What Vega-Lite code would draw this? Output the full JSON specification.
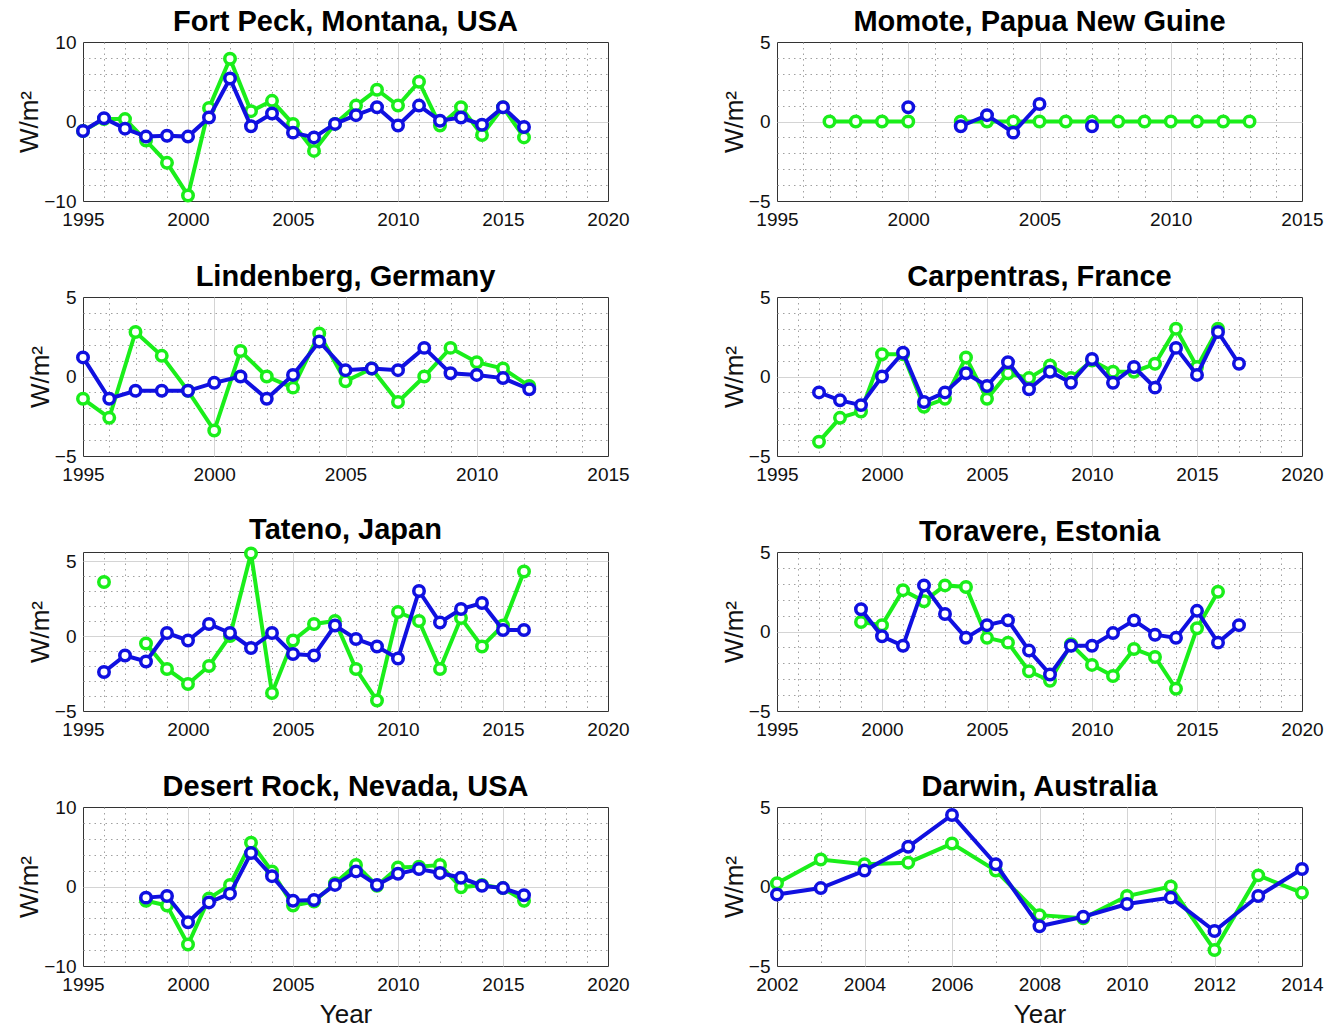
{
  "$schema": "https://vega.github.io/schema/vega-lite/v6.json",
  "autosize": {"type": "pad"},
  "padding": {"left": 16, "top": 7, "right": 15, "bottom": 0},
  "background": "white",
  "datasets": {
    "obs": [
      {"station": "Fort Peck", "year": 1995, "seriesA": -1.2, "seriesB": -1.2},
      {"station": "Fort Peck", "year": 1996, "seriesA": 0.3, "seriesB": 0.4},
      {"station": "Fort Peck", "year": 1997, "seriesA": 0.3, "seriesB": -0.9},
      {"station": "Fort Peck", "year": 1998, "seriesA": -2.4, "seriesB": -1.9},
      {"station": "Fort Peck", "year": 1999, "seriesA": -5.2, "seriesB": -1.8},
      {"station": "Fort Peck", "year": 2000, "seriesA": -9.3, "seriesB": -1.9},
      {"station": "Fort Peck", "year": 2001, "seriesA": 1.7, "seriesB": 0.5},
      {"station": "Fort Peck", "year": 2002, "seriesA": 7.9, "seriesB": 5.4},
      {"station": "Fort Peck", "year": 2003, "seriesA": 1.3, "seriesB": -0.6},
      {"station": "Fort Peck", "year": 2004, "seriesA": 2.6, "seriesB": 1.0},
      {"station": "Fort Peck", "year": 2005, "seriesA": -0.3, "seriesB": -1.4},
      {"station": "Fort Peck", "year": 2006, "seriesA": -3.7, "seriesB": -2.0},
      {"station": "Fort Peck", "year": 2007, "seriesA": -0.3, "seriesB": -0.3},
      {"station": "Fort Peck", "year": 2008, "seriesA": 2.0, "seriesB": 0.8},
      {"station": "Fort Peck", "year": 2009, "seriesA": 4.0, "seriesB": 1.8},
      {"station": "Fort Peck", "year": 2010, "seriesA": 2.0, "seriesB": -0.5},
      {"station": "Fort Peck", "year": 2011, "seriesA": 5.0, "seriesB": 2.0},
      {"station": "Fort Peck", "year": 2012, "seriesA": -0.5, "seriesB": 0.1},
      {"station": "Fort Peck", "year": 2013, "seriesA": 1.8, "seriesB": 0.5},
      {"station": "Fort Peck", "year": 2014, "seriesA": -1.7, "seriesB": -0.4},
      {"station": "Fort Peck", "year": 2015, "seriesA": 1.8, "seriesB": 1.8},
      {"station": "Fort Peck", "year": 2016, "seriesA": -2.0, "seriesB": -0.7},

      {"station": "Momote", "year": 1997, "seriesA": 0, "seriesB": null},
      {"station": "Momote", "year": 1998, "seriesA": 0, "seriesB": null},
      {"station": "Momote", "year": 1999, "seriesA": 0, "seriesB": null},
      {"station": "Momote", "year": 2000, "seriesA": 0, "seriesB": 0.9},
      {"station": "Momote", "year": 2001, "seriesA": null, "seriesB": null},
      {"station": "Momote", "year": 2002, "seriesA": 0, "seriesB": -0.3},
      {"station": "Momote", "year": 2003, "seriesA": 0, "seriesB": 0.4},
      {"station": "Momote", "year": 2004, "seriesA": 0, "seriesB": -0.7},
      {"station": "Momote", "year": 2005, "seriesA": 0, "seriesB": 1.1},
      {"station": "Momote", "year": 2006, "seriesA": 0, "seriesB": null},
      {"station": "Momote", "year": 2007, "seriesA": 0, "seriesB": -0.3},
      {"station": "Momote", "year": 2008, "seriesA": 0, "seriesB": null},
      {"station": "Momote", "year": 2009, "seriesA": 0, "seriesB": null},
      {"station": "Momote", "year": 2010, "seriesA": 0, "seriesB": null},
      {"station": "Momote", "year": 2011, "seriesA": 0, "seriesB": null},
      {"station": "Momote", "year": 2012, "seriesA": 0, "seriesB": null},
      {"station": "Momote", "year": 2013, "seriesA": 0, "seriesB": null},

      {"station": "Lindenberg", "year": 1995, "seriesA": -1.4, "seriesB": 1.2},
      {"station": "Lindenberg", "year": 1996, "seriesA": -2.6, "seriesB": -1.4},
      {"station": "Lindenberg", "year": 1997, "seriesA": 2.8, "seriesB": -0.9},
      {"station": "Lindenberg", "year": 1998, "seriesA": 1.3, "seriesB": -0.9},
      {"station": "Lindenberg", "year": 1999, "seriesA": -0.9, "seriesB": -0.9},
      {"station": "Lindenberg", "year": 2000, "seriesA": -3.4, "seriesB": -0.4},
      {"station": "Lindenberg", "year": 2001, "seriesA": 1.6, "seriesB": 0.0},
      {"station": "Lindenberg", "year": 2002, "seriesA": 0.0, "seriesB": -1.4},
      {"station": "Lindenberg", "year": 2003, "seriesA": -0.7, "seriesB": 0.1},
      {"station": "Lindenberg", "year": 2004, "seriesA": 2.7, "seriesB": 2.2},
      {"station": "Lindenberg", "year": 2005, "seriesA": -0.3, "seriesB": 0.4},
      {"station": "Lindenberg", "year": 2006, "seriesA": 0.5, "seriesB": 0.5},
      {"station": "Lindenberg", "year": 2007, "seriesA": -1.6, "seriesB": 0.4},
      {"station": "Lindenberg", "year": 2008, "seriesA": 0.0, "seriesB": 1.8},
      {"station": "Lindenberg", "year": 2009, "seriesA": 1.8, "seriesB": 0.2},
      {"station": "Lindenberg", "year": 2010, "seriesA": 0.9, "seriesB": 0.1},
      {"station": "Lindenberg", "year": 2011, "seriesA": 0.5, "seriesB": -0.1},
      {"station": "Lindenberg", "year": 2012, "seriesA": -0.6, "seriesB": -0.8},

      {"station": "Carpentras", "year": 1997, "seriesA": -4.1, "seriesB": -1.0},
      {"station": "Carpentras", "year": 1998, "seriesA": -2.6, "seriesB": -1.5},
      {"station": "Carpentras", "year": 1999, "seriesA": -2.2, "seriesB": -1.8},
      {"station": "Carpentras", "year": 2000, "seriesA": 1.4, "seriesB": 0.0},
      {"station": "Carpentras", "year": 2001, "seriesA": 1.4, "seriesB": 1.5},
      {"station": "Carpentras", "year": 2002, "seriesA": -1.9, "seriesB": -1.6},
      {"station": "Carpentras", "year": 2003, "seriesA": -1.4, "seriesB": -1.0},
      {"station": "Carpentras", "year": 2004, "seriesA": 1.2, "seriesB": 0.2},
      {"station": "Carpentras", "year": 2005, "seriesA": -1.4, "seriesB": -0.6},
      {"station": "Carpentras", "year": 2006, "seriesA": 0.2, "seriesB": 0.9},
      {"station": "Carpentras", "year": 2007, "seriesA": -0.1, "seriesB": -0.8},
      {"station": "Carpentras", "year": 2008, "seriesA": 0.7, "seriesB": 0.3},
      {"station": "Carpentras", "year": 2009, "seriesA": -0.1, "seriesB": -0.4},
      {"station": "Carpentras", "year": 2010, "seriesA": 1.0, "seriesB": 1.1},
      {"station": "Carpentras", "year": 2011, "seriesA": 0.3, "seriesB": -0.4},
      {"station": "Carpentras", "year": 2012, "seriesA": 0.3, "seriesB": 0.6},
      {"station": "Carpentras", "year": 2013, "seriesA": 0.8, "seriesB": -0.7},
      {"station": "Carpentras", "year": 2014, "seriesA": 3.0, "seriesB": 1.8},
      {"station": "Carpentras", "year": 2015, "seriesA": 0.6, "seriesB": 0.1},
      {"station": "Carpentras", "year": 2016, "seriesA": 3.0, "seriesB": 2.8},
      {"station": "Carpentras", "year": 2017, "seriesA": null, "seriesB": 0.8},

      {"station": "Tateno", "year": 1996, "seriesA": 3.6, "seriesB": -2.4},
      {"station": "Tateno", "year": 1997, "seriesA": null, "seriesB": -1.3},
      {"station": "Tateno", "year": 1998, "seriesA": -0.5, "seriesB": -1.7},
      {"station": "Tateno", "year": 1999, "seriesA": -2.2, "seriesB": 0.2},
      {"station": "Tateno", "year": 2000, "seriesA": -3.2, "seriesB": -0.3},
      {"station": "Tateno", "year": 2001, "seriesA": -2.0, "seriesB": 0.8},
      {"station": "Tateno", "year": 2002, "seriesA": 0.0, "seriesB": 0.2},
      {"station": "Tateno", "year": 2003, "seriesA": 5.5, "seriesB": -0.8},
      {"station": "Tateno", "year": 2004, "seriesA": -3.8, "seriesB": 0.2},
      {"station": "Tateno", "year": 2005, "seriesA": -0.3, "seriesB": -1.2},
      {"station": "Tateno", "year": 2006, "seriesA": 0.8, "seriesB": -1.3},
      {"station": "Tateno", "year": 2007, "seriesA": 1.0, "seriesB": 0.7},
      {"station": "Tateno", "year": 2008, "seriesA": -2.2, "seriesB": -0.2},
      {"station": "Tateno", "year": 2009, "seriesA": -4.3, "seriesB": -0.7},
      {"station": "Tateno", "year": 2010, "seriesA": 1.6, "seriesB": -1.5},
      {"station": "Tateno", "year": 2011, "seriesA": 1.0, "seriesB": 3.0},
      {"station": "Tateno", "year": 2012, "seriesA": -2.2, "seriesB": 0.9},
      {"station": "Tateno", "year": 2013, "seriesA": 1.2, "seriesB": 1.8},
      {"station": "Tateno", "year": 2014, "seriesA": -0.7, "seriesB": 2.2},
      {"station": "Tateno", "year": 2015, "seriesA": 0.7, "seriesB": 0.4},
      {"station": "Tateno", "year": 2016, "seriesA": 4.3, "seriesB": 0.4},

      {"station": "Toravere", "year": 1999, "seriesA": 0.6, "seriesB": 1.4},
      {"station": "Toravere", "year": 2000, "seriesA": 0.4, "seriesB": -0.3},
      {"station": "Toravere", "year": 2001, "seriesA": 2.6, "seriesB": -0.9},
      {"station": "Toravere", "year": 2002, "seriesA": 1.9, "seriesB": 2.9},
      {"station": "Toravere", "year": 2003, "seriesA": 2.9, "seriesB": 1.1},
      {"station": "Toravere", "year": 2004, "seriesA": 2.8, "seriesB": -0.4},
      {"station": "Toravere", "year": 2005, "seriesA": -0.4, "seriesB": 0.4},
      {"station": "Toravere", "year": 2006, "seriesA": -0.7, "seriesB": 0.7},
      {"station": "Toravere", "year": 2007, "seriesA": -2.5, "seriesB": -1.2},
      {"station": "Toravere", "year": 2008, "seriesA": -3.1, "seriesB": -2.7},
      {"station": "Toravere", "year": 2009, "seriesA": -0.8, "seriesB": -0.9},
      {"station": "Toravere", "year": 2010, "seriesA": -2.1, "seriesB": -0.9},
      {"station": "Toravere", "year": 2011, "seriesA": -2.8, "seriesB": -0.1},
      {"station": "Toravere", "year": 2012, "seriesA": -1.1, "seriesB": 0.7},
      {"station": "Toravere", "year": 2013, "seriesA": -1.6, "seriesB": -0.2},
      {"station": "Toravere", "year": 2014, "seriesA": -3.6, "seriesB": -0.4},
      {"station": "Toravere", "year": 2015, "seriesA": 0.2, "seriesB": 1.3},
      {"station": "Toravere", "year": 2016, "seriesA": 2.5, "seriesB": -0.7},
      {"station": "Toravere", "year": 2017, "seriesA": null, "seriesB": 0.4},

      {"station": "Desert Rock", "year": 1998, "seriesA": -1.8, "seriesB": -1.4},
      {"station": "Desert Rock", "year": 1999, "seriesA": -2.4, "seriesB": -1.2},
      {"station": "Desert Rock", "year": 2000, "seriesA": -7.3, "seriesB": -4.5},
      {"station": "Desert Rock", "year": 2001, "seriesA": -1.5, "seriesB": -2.0},
      {"station": "Desert Rock", "year": 2002, "seriesA": 0.2, "seriesB": -0.9},
      {"station": "Desert Rock", "year": 2003, "seriesA": 5.5, "seriesB": 4.2},
      {"station": "Desert Rock", "year": 2004, "seriesA": 1.9, "seriesB": 1.3},
      {"station": "Desert Rock", "year": 2005, "seriesA": -2.4, "seriesB": -1.8},
      {"station": "Desert Rock", "year": 2006, "seriesA": -1.9, "seriesB": -1.7},
      {"station": "Desert Rock", "year": 2007, "seriesA": 0.4, "seriesB": 0.2},
      {"station": "Desert Rock", "year": 2008, "seriesA": 2.7, "seriesB": 1.9},
      {"station": "Desert Rock", "year": 2009, "seriesA": 0.1, "seriesB": 0.2},
      {"station": "Desert Rock", "year": 2010, "seriesA": 2.4, "seriesB": 1.6},
      {"station": "Desert Rock", "year": 2011, "seriesA": 2.5, "seriesB": 2.2},
      {"station": "Desert Rock", "year": 2012, "seriesA": 2.7, "seriesB": 1.7},
      {"station": "Desert Rock", "year": 2013, "seriesA": -0.1, "seriesB": 1.1},
      {"station": "Desert Rock", "year": 2014, "seriesA": 0.2, "seriesB": 0.1},
      {"station": "Desert Rock", "year": 2015, "seriesA": -0.2, "seriesB": -0.2},
      {"station": "Desert Rock", "year": 2016, "seriesA": -1.8, "seriesB": -1.1},

      {"station": "Darwin", "year": 2002, "seriesA": 0.2, "seriesB": -0.5},
      {"station": "Darwin", "year": 2003, "seriesA": 1.7, "seriesB": -0.1},
      {"station": "Darwin", "year": 2004, "seriesA": 1.4, "seriesB": 1.0},
      {"station": "Darwin", "year": 2005, "seriesA": 1.5, "seriesB": 2.5},
      {"station": "Darwin", "year": 2006, "seriesA": 2.7, "seriesB": 4.5},
      {"station": "Darwin", "year": 2007, "seriesA": 1.0, "seriesB": 1.4},
      {"station": "Darwin", "year": 2008, "seriesA": -1.8, "seriesB": -2.5},
      {"station": "Darwin", "year": 2009, "seriesA": -2.0, "seriesB": -1.9},
      {"station": "Darwin", "year": 2010, "seriesA": -0.6, "seriesB": -1.1},
      {"station": "Darwin", "year": 2011, "seriesA": 0.0, "seriesB": -0.7},
      {"station": "Darwin", "year": 2012, "seriesA": -4.0, "seriesB": -2.8},
      {"station": "Darwin", "year": 2013, "seriesA": 0.7, "seriesB": -0.6},
      {"station": "Darwin", "year": 2014, "seriesA": -0.4, "seriesB": 1.1}
    ]
  },
  "data": {"name": "obs"},
  "transform": [{"fold": ["seriesA", "seriesB"], "as": ["series", "value"]}],
  "columns": 2,
  "bounds": "flush",
  "spacing": {"row": 96, "column": 169},
  "concat": [
    {
      "title": "Fort Peck, Montana, USA",
      "width": 525, "height": 159,
      "transform": [{"filter": "datum.station === 'Fort Peck'"}],
      "encoding": {
        "x": {"field": "year", "type": "quantitative", "title": null,
          "scale": {"domain": [1995, 2020], "nice": false, "zero": false},
          "axis": {"format": "d", "values": [1995,1996,1997,1998,1999,2000,2001,2002,2003,2004,2005,2006,2007,2008,2009,2010,2011,2012,2013,2014,2015,2016,2017,2018,2019,2020],
            "labelExpr": "datum.value % 5 === 0 ? datum.label : ''",
            "gridDash": {"condition": {"test": "datum.value % 5 === 0", "value": []}, "value": [1.5, 4]},
            "gridColor": {"condition": {"test": "datum.value % 5 === 0", "value": "#d4d4d4"}, "value": "#a0a0a0"},
            "gridOpacity": {"condition": {"test": "datum.value === 1995 || datum.value === 2020", "value": 0}, "value": 1}}},
        "y": {"field": "value", "type": "quantitative", "title": "W/m²",
          "scale": {"domain": [-10, 10], "nice": false, "zero": false},
          "axis": {"values": [-10,-8,-6,-4,-2,0,2,4,6,8,10],
            "labelExpr": "datum.value % 10 === 0 ? datum.label : ''",
            "gridDash": {"condition": {"test": "datum.value % 10 === 0", "value": []}, "value": [1.5, 4]},
            "gridColor": {"condition": {"test": "datum.value % 10 === 0", "value": "#d4d4d4"}, "value": "#a0a0a0"},
            "gridOpacity": {"condition": {"test": "datum.value === -10 || datum.value === 10", "value": 0}, "value": 1}}}
      },
      "layer": [
        {"transform": [{"filter": "datum.series === 'seriesA'"}], "mark": {"type": "line", "color": "#1aee1a", "strokeWidth": 4, "invalid": "break-paths-show-domains"}},
        {"transform": [{"filter": "datum.series === 'seriesA'"}], "mark": {"type": "point", "shape": "circle", "color": "#1aee1a", "filled": false, "fill": "white", "fillOpacity": 1, "opacity": 1, "size": 110, "strokeWidth": 3.5}},
        {"transform": [{"filter": "datum.series === 'seriesB'"}], "mark": {"type": "line", "color": "#1010e0", "strokeWidth": 4, "invalid": "break-paths-show-domains"}},
        {"transform": [{"filter": "datum.series === 'seriesB'"}], "mark": {"type": "point", "shape": "circle", "color": "#1010e0", "filled": false, "fill": "white", "fillOpacity": 1, "opacity": 1, "size": 110, "strokeWidth": 3.5}}
      ]
    },
    {
      "title": "Momote, Papua New Guine",
      "width": 525, "height": 159,
      "transform": [{"filter": "datum.station === 'Momote'"}],
      "encoding": {
        "x": {"field": "year", "type": "quantitative", "title": null,
          "scale": {"domain": [1995, 2015], "nice": false, "zero": false},
          "axis": {"format": "d", "values": [1995,1996,1997,1998,1999,2000,2001,2002,2003,2004,2005,2006,2007,2008,2009,2010,2011,2012,2013,2014,2015],
            "labelExpr": "datum.value % 5 === 0 ? datum.label : ''",
            "gridDash": {"condition": {"test": "datum.value % 5 === 0", "value": []}, "value": [1.5, 4]},
            "gridColor": {"condition": {"test": "datum.value % 5 === 0", "value": "#d4d4d4"}, "value": "#a0a0a0"},
            "gridOpacity": {"condition": {"test": "datum.value === 1995 || datum.value === 2015", "value": 0}, "value": 1}}},
        "y": {"field": "value", "type": "quantitative", "title": "W/m²",
          "scale": {"domain": [-5, 5], "nice": false, "zero": false},
          "axis": {"values": [-5,-4,-3,-2,-1,0,1,2,3,4,5],
            "labelExpr": "datum.value % 5 === 0 ? datum.label : ''",
            "gridDash": {"condition": {"test": "datum.value % 5 === 0", "value": []}, "value": [1.5, 4]},
            "gridColor": {"condition": {"test": "datum.value % 5 === 0", "value": "#d4d4d4"}, "value": "#a0a0a0"},
            "gridOpacity": {"condition": {"test": "datum.value === -5 || datum.value === 5", "value": 0}, "value": 1}}}
      },
      "layer": [
        {"transform": [{"filter": "datum.series === 'seriesA'"}], "mark": {"type": "line", "color": "#1aee1a", "strokeWidth": 4, "invalid": "break-paths-show-domains"}},
        {"transform": [{"filter": "datum.series === 'seriesA'"}], "mark": {"type": "point", "shape": "circle", "color": "#1aee1a", "filled": false, "fill": "white", "fillOpacity": 1, "opacity": 1, "size": 110, "strokeWidth": 3.5}},
        {"transform": [{"filter": "datum.series === 'seriesB'"}], "mark": {"type": "line", "color": "#1010e0", "strokeWidth": 4, "invalid": "break-paths-show-domains"}},
        {"transform": [{"filter": "datum.series === 'seriesB'"}], "mark": {"type": "point", "shape": "circle", "color": "#1010e0", "filled": false, "fill": "white", "fillOpacity": 1, "opacity": 1, "size": 110, "strokeWidth": 3.5}}
      ]
    },
    {
      "title": "Lindenberg, Germany",
      "width": 525, "height": 159,
      "transform": [{"filter": "datum.station === 'Lindenberg'"}],
      "encoding": {
        "x": {"field": "year", "type": "quantitative", "title": null,
          "scale": {"domain": [1995, 2015], "nice": false, "zero": false},
          "axis": {"format": "d", "values": [1995,1996,1997,1998,1999,2000,2001,2002,2003,2004,2005,2006,2007,2008,2009,2010,2011,2012,2013,2014,2015],
            "labelExpr": "datum.value % 5 === 0 ? datum.label : ''",
            "gridDash": {"condition": {"test": "datum.value % 5 === 0", "value": []}, "value": [1.5, 4]},
            "gridColor": {"condition": {"test": "datum.value % 5 === 0", "value": "#d4d4d4"}, "value": "#a0a0a0"},
            "gridOpacity": {"condition": {"test": "datum.value === 1995 || datum.value === 2015", "value": 0}, "value": 1}}},
        "y": {"field": "value", "type": "quantitative", "title": "W/m²",
          "scale": {"domain": [-5, 5], "nice": false, "zero": false},
          "axis": {"values": [-5,-4,-3,-2,-1,0,1,2,3,4,5],
            "labelExpr": "datum.value % 5 === 0 ? datum.label : ''",
            "gridDash": {"condition": {"test": "datum.value % 5 === 0", "value": []}, "value": [1.5, 4]},
            "gridColor": {"condition": {"test": "datum.value % 5 === 0", "value": "#d4d4d4"}, "value": "#a0a0a0"},
            "gridOpacity": {"condition": {"test": "datum.value === -5 || datum.value === 5", "value": 0}, "value": 1}}}
      },
      "layer": [
        {"transform": [{"filter": "datum.series === 'seriesA'"}], "mark": {"type": "line", "color": "#1aee1a", "strokeWidth": 4, "invalid": "break-paths-show-domains"}},
        {"transform": [{"filter": "datum.series === 'seriesA'"}], "mark": {"type": "point", "shape": "circle", "color": "#1aee1a", "filled": false, "fill": "white", "fillOpacity": 1, "opacity": 1, "size": 110, "strokeWidth": 3.5}},
        {"transform": [{"filter": "datum.series === 'seriesB'"}], "mark": {"type": "line", "color": "#1010e0", "strokeWidth": 4, "invalid": "break-paths-show-domains"}},
        {"transform": [{"filter": "datum.series === 'seriesB'"}], "mark": {"type": "point", "shape": "circle", "color": "#1010e0", "filled": false, "fill": "white", "fillOpacity": 1, "opacity": 1, "size": 110, "strokeWidth": 3.5}}
      ]
    },
    {
      "title": "Carpentras, France",
      "width": 525, "height": 159,
      "transform": [{"filter": "datum.station === 'Carpentras'"}],
      "encoding": {
        "x": {"field": "year", "type": "quantitative", "title": null,
          "scale": {"domain": [1995, 2020], "nice": false, "zero": false},
          "axis": {"format": "d", "values": [1995,1996,1997,1998,1999,2000,2001,2002,2003,2004,2005,2006,2007,2008,2009,2010,2011,2012,2013,2014,2015,2016,2017,2018,2019,2020],
            "labelExpr": "datum.value % 5 === 0 ? datum.label : ''",
            "gridDash": {"condition": {"test": "datum.value % 5 === 0", "value": []}, "value": [1.5, 4]},
            "gridColor": {"condition": {"test": "datum.value % 5 === 0", "value": "#d4d4d4"}, "value": "#a0a0a0"},
            "gridOpacity": {"condition": {"test": "datum.value === 1995 || datum.value === 2020", "value": 0}, "value": 1}}},
        "y": {"field": "value", "type": "quantitative", "title": "W/m²",
          "scale": {"domain": [-5, 5], "nice": false, "zero": false},
          "axis": {"values": [-5,-4,-3,-2,-1,0,1,2,3,4,5],
            "labelExpr": "datum.value % 5 === 0 ? datum.label : ''",
            "gridDash": {"condition": {"test": "datum.value % 5 === 0", "value": []}, "value": [1.5, 4]},
            "gridColor": {"condition": {"test": "datum.value % 5 === 0", "value": "#d4d4d4"}, "value": "#a0a0a0"},
            "gridOpacity": {"condition": {"test": "datum.value === -5 || datum.value === 5", "value": 0}, "value": 1}}}
      },
      "layer": [
        {"transform": [{"filter": "datum.series === 'seriesA'"}], "mark": {"type": "line", "color": "#1aee1a", "strokeWidth": 4, "invalid": "break-paths-show-domains"}},
        {"transform": [{"filter": "datum.series === 'seriesA'"}], "mark": {"type": "point", "shape": "circle", "color": "#1aee1a", "filled": false, "fill": "white", "fillOpacity": 1, "opacity": 1, "size": 110, "strokeWidth": 3.5}},
        {"transform": [{"filter": "datum.series === 'seriesB'"}], "mark": {"type": "line", "color": "#1010e0", "strokeWidth": 4, "invalid": "break-paths-show-domains"}},
        {"transform": [{"filter": "datum.series === 'seriesB'"}], "mark": {"type": "point", "shape": "circle", "color": "#1010e0", "filled": false, "fill": "white", "fillOpacity": 1, "opacity": 1, "size": 110, "strokeWidth": 3.5}}
      ]
    },
    {
      "title": "Tateno, Japan",
      "width": 525, "height": 159,
      "transform": [{"filter": "datum.station === 'Tateno'"}],
      "encoding": {
        "x": {"field": "year", "type": "quantitative", "title": null,
          "scale": {"domain": [1995, 2020], "nice": false, "zero": false},
          "axis": {"format": "d", "values": [1995,1996,1997,1998,1999,2000,2001,2002,2003,2004,2005,2006,2007,2008,2009,2010,2011,2012,2013,2014,2015,2016,2017,2018,2019,2020],
            "labelExpr": "datum.value % 5 === 0 ? datum.label : ''",
            "gridDash": {"condition": {"test": "datum.value % 5 === 0", "value": []}, "value": [1.5, 4]},
            "gridColor": {"condition": {"test": "datum.value % 5 === 0", "value": "#d4d4d4"}, "value": "#a0a0a0"},
            "gridOpacity": {"condition": {"test": "datum.value === 1995 || datum.value === 2020", "value": 0}, "value": 1}}},
        "y": {"field": "value", "type": "quantitative", "title": "W/m²",
          "scale": {"domain": [-5, 5.6], "nice": false, "zero": false},
          "axis": {"values": [-5,-4,-3,-2,-1,0,1,2,3,4,5],
            "labelExpr": "datum.value % 5 === 0 ? datum.label : ''",
            "gridDash": {"condition": {"test": "datum.value % 5 === 0", "value": []}, "value": [1.5, 4]},
            "gridColor": {"condition": {"test": "datum.value % 5 === 0", "value": "#d4d4d4"}, "value": "#a0a0a0"},
            "gridOpacity": {"condition": {"test": "datum.value === -5", "value": 0}, "value": 1}}}
      },
      "layer": [
        {"transform": [{"filter": "datum.series === 'seriesA'"}], "mark": {"type": "line", "color": "#1aee1a", "strokeWidth": 4, "invalid": "break-paths-show-domains"}},
        {"transform": [{"filter": "datum.series === 'seriesA'"}], "mark": {"type": "point", "shape": "circle", "color": "#1aee1a", "filled": false, "fill": "white", "fillOpacity": 1, "opacity": 1, "size": 110, "strokeWidth": 3.5}},
        {"transform": [{"filter": "datum.series === 'seriesB'"}], "mark": {"type": "line", "color": "#1010e0", "strokeWidth": 4, "invalid": "break-paths-show-domains"}},
        {"transform": [{"filter": "datum.series === 'seriesB'"}], "mark": {"type": "point", "shape": "circle", "color": "#1010e0", "filled": false, "fill": "white", "fillOpacity": 1, "opacity": 1, "size": 110, "strokeWidth": 3.5}}
      ]
    },
    {
      "title": "Toravere, Estonia",
      "width": 525, "height": 159,
      "transform": [{"filter": "datum.station === 'Toravere'"}],
      "encoding": {
        "x": {"field": "year", "type": "quantitative", "title": null,
          "scale": {"domain": [1995, 2020], "nice": false, "zero": false},
          "axis": {"format": "d", "values": [1995,1996,1997,1998,1999,2000,2001,2002,2003,2004,2005,2006,2007,2008,2009,2010,2011,2012,2013,2014,2015,2016,2017,2018,2019,2020],
            "labelExpr": "datum.value % 5 === 0 ? datum.label : ''",
            "gridDash": {"condition": {"test": "datum.value % 5 === 0", "value": []}, "value": [1.5, 4]},
            "gridColor": {"condition": {"test": "datum.value % 5 === 0", "value": "#d4d4d4"}, "value": "#a0a0a0"},
            "gridOpacity": {"condition": {"test": "datum.value === 1995 || datum.value === 2020", "value": 0}, "value": 1}}},
        "y": {"field": "value", "type": "quantitative", "title": "W/m²",
          "scale": {"domain": [-5, 5], "nice": false, "zero": false},
          "axis": {"values": [-5,-4,-3,-2,-1,0,1,2,3,4,5],
            "labelExpr": "datum.value % 5 === 0 ? datum.label : ''",
            "gridDash": {"condition": {"test": "datum.value % 5 === 0", "value": []}, "value": [1.5, 4]},
            "gridColor": {"condition": {"test": "datum.value % 5 === 0", "value": "#d4d4d4"}, "value": "#a0a0a0"},
            "gridOpacity": {"condition": {"test": "datum.value === -5 || datum.value === 5", "value": 0}, "value": 1}}}
      },
      "layer": [
        {"transform": [{"filter": "datum.series === 'seriesA'"}], "mark": {"type": "line", "color": "#1aee1a", "strokeWidth": 4, "invalid": "break-paths-show-domains"}},
        {"transform": [{"filter": "datum.series === 'seriesA'"}], "mark": {"type": "point", "shape": "circle", "color": "#1aee1a", "filled": false, "fill": "white", "fillOpacity": 1, "opacity": 1, "size": 110, "strokeWidth": 3.5}},
        {"transform": [{"filter": "datum.series === 'seriesB'"}], "mark": {"type": "line", "color": "#1010e0", "strokeWidth": 4, "invalid": "break-paths-show-domains"}},
        {"transform": [{"filter": "datum.series === 'seriesB'"}], "mark": {"type": "point", "shape": "circle", "color": "#1010e0", "filled": false, "fill": "white", "fillOpacity": 1, "opacity": 1, "size": 110, "strokeWidth": 3.5}}
      ]
    },
    {
      "title": "Desert Rock, Nevada, USA",
      "width": 525, "height": 159,
      "transform": [{"filter": "datum.station === 'Desert Rock'"}],
      "encoding": {
        "x": {"field": "year", "type": "quantitative", "title": "Year",
          "scale": {"domain": [1995, 2020], "nice": false, "zero": false},
          "axis": {"format": "d", "values": [1995,1996,1997,1998,1999,2000,2001,2002,2003,2004,2005,2006,2007,2008,2009,2010,2011,2012,2013,2014,2015,2016,2017,2018,2019,2020],
            "labelExpr": "datum.value % 5 === 0 ? datum.label : ''",
            "gridDash": {"condition": {"test": "datum.value % 5 === 0", "value": []}, "value": [1.5, 4]},
            "gridColor": {"condition": {"test": "datum.value % 5 === 0", "value": "#d4d4d4"}, "value": "#a0a0a0"},
            "gridOpacity": {"condition": {"test": "datum.value === 1995 || datum.value === 2020", "value": 0}, "value": 1}}},
        "y": {"field": "value", "type": "quantitative", "title": "W/m²",
          "scale": {"domain": [-10, 10], "nice": false, "zero": false},
          "axis": {"values": [-10,-8,-6,-4,-2,0,2,4,6,8,10],
            "labelExpr": "datum.value % 10 === 0 ? datum.label : ''",
            "gridDash": {"condition": {"test": "datum.value % 10 === 0", "value": []}, "value": [1.5, 4]},
            "gridColor": {"condition": {"test": "datum.value % 10 === 0", "value": "#d4d4d4"}, "value": "#a0a0a0"},
            "gridOpacity": {"condition": {"test": "datum.value === -10 || datum.value === 10", "value": 0}, "value": 1}}}
      },
      "layer": [
        {"transform": [{"filter": "datum.series === 'seriesA'"}], "mark": {"type": "line", "color": "#1aee1a", "strokeWidth": 4, "invalid": "break-paths-show-domains"}},
        {"transform": [{"filter": "datum.series === 'seriesA'"}], "mark": {"type": "point", "shape": "circle", "color": "#1aee1a", "filled": false, "fill": "white", "fillOpacity": 1, "opacity": 1, "size": 110, "strokeWidth": 3.5}},
        {"transform": [{"filter": "datum.series === 'seriesB'"}], "mark": {"type": "line", "color": "#1010e0", "strokeWidth": 4, "invalid": "break-paths-show-domains"}},
        {"transform": [{"filter": "datum.series === 'seriesB'"}], "mark": {"type": "point", "shape": "circle", "color": "#1010e0", "filled": false, "fill": "white", "fillOpacity": 1, "opacity": 1, "size": 110, "strokeWidth": 3.5}}
      ]
    },
    {
      "title": "Darwin, Australia",
      "width": 525, "height": 159,
      "transform": [{"filter": "datum.station === 'Darwin'"}],
      "encoding": {
        "x": {"field": "year", "type": "quantitative", "title": "Year",
          "scale": {"domain": [2002, 2014], "nice": false, "zero": false},
          "axis": {"format": "d", "values": [2002,2002.5,2003,2003.5,2004,2004.5,2005,2005.5,2006,2006.5,2007,2007.5,2008,2008.5,2009,2009.5,2010,2010.5,2011,2011.5,2012,2012.5,2013,2013.5,2014],
            "labelExpr": "datum.value % 2 === 0 ? datum.label : ''",
            "gridDash": {"condition": {"test": "datum.value % 2 === 0", "value": []}, "value": [1.5, 4]},
            "gridColor": {"condition": {"test": "datum.value % 2 === 0", "value": "#d4d4d4"}, "value": "#a0a0a0"},
            "gridOpacity": {"condition": {"test": "datum.value === 2002 || datum.value === 2014", "value": 0}, "value": 1}}},
        "y": {"field": "value", "type": "quantitative", "title": "W/m²",
          "scale": {"domain": [-5, 5], "nice": false, "zero": false},
          "axis": {"values": [-5,-4,-3,-2,-1,0,1,2,3,4,5],
            "labelExpr": "datum.value % 5 === 0 ? datum.label : ''",
            "gridDash": {"condition": {"test": "datum.value % 5 === 0", "value": []}, "value": [1.5, 4]},
            "gridColor": {"condition": {"test": "datum.value % 5 === 0", "value": "#d4d4d4"}, "value": "#a0a0a0"},
            "gridOpacity": {"condition": {"test": "datum.value === -5 || datum.value === 5", "value": 0}, "value": 1}}}
      },
      "layer": [
        {"transform": [{"filter": "datum.series === 'seriesA'"}], "mark": {"type": "line", "color": "#1aee1a", "strokeWidth": 4, "invalid": "break-paths-show-domains"}},
        {"transform": [{"filter": "datum.series === 'seriesA'"}], "mark": {"type": "point", "shape": "circle", "color": "#1aee1a", "filled": false, "fill": "white", "fillOpacity": 1, "opacity": 1, "size": 110, "strokeWidth": 3.5}},
        {"transform": [{"filter": "datum.series === 'seriesB'"}], "mark": {"type": "line", "color": "#1010e0", "strokeWidth": 4, "invalid": "break-paths-show-domains"}},
        {"transform": [{"filter": "datum.series === 'seriesB'"}], "mark": {"type": "point", "shape": "circle", "color": "#1010e0", "filled": false, "fill": "white", "fillOpacity": 1, "opacity": 1, "size": 110, "strokeWidth": 3.5}}
      ]
    }
  ],
  "config": {
    "view": {"stroke": "#333333", "strokeWidth": 1},
    "axis": {
      "labelFont": "Liberation Sans", "labelFontSize": 19, "labelColor": "#111111",
      "titleFont": "Liberation Sans", "titleFontSize": 26, "titleFontWeight": "normal", "titleColor": "#111111",
      "ticks": false, "domain": false,
      "labelFlush": false, "labelOverlap": false, "labelBound": false,
      "grid": true, "gridWidth": 1
    },
    "axisX": {"labelPadding": 9, "titlePadding": 7},
    "axisY": {"labelPadding": 7, "titlePadding": 1},
    "title": {"font": "Liberation Sans", "fontSize": 29, "fontWeight": "bold", "color": "#000000", "offset": -4, "anchor": "middle"}
  }
}
